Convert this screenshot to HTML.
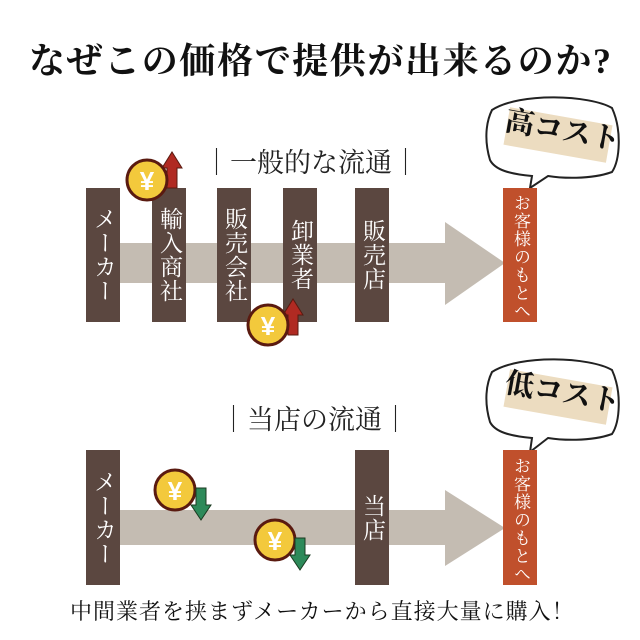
<!DOCTYPE html>
<html><head><meta charset="utf-8"><style>
body{margin:0;width:640px;height:640px;background:#fff;position:relative;overflow:hidden;font-family:"Liberation Serif","Noto Serif CJK SC",serif}
.a{position:absolute}
.bar{position:absolute;background:#5b4740;color:#fff;writing-mode:vertical-rl;font-size:23px;display:flex;justify-content:center;align-items:center;width:34px;line-height:34px;letter-spacing:1px}
.cu{background:#c0502c;font-size:17px;align-items:flex-start;padding-top:4px;box-sizing:border-box}
.t{position:absolute;white-space:nowrap;color:#222}
</style></head><body>
<div class="t" style="left:29px;top:33px;font-size:36px;font-weight:bold;color:#111;letter-spacing:1.6px">なぜこの価格で提供が出来るのか?</div>
<svg class="a" style="left:0;top:0" width="640" height="640">
<polygon points="120,243 445,243 445,222 505,263 445,305 445,283 120,283" fill="#c4bcb2"/>
<polygon points="120,510 445,510 445,490 505,528 445,566 445,545 120,545" fill="#c4bcb2"/>
<path d="M492,110 C520,92 590,95 612,108 C622,130 620,160 612,172 C590,180 560,178 548,176 L530,188 L532,176 C510,174 495,170 490,160 C484,140 486,122 492,110Z" fill="#fff" stroke="#222" stroke-width="2"/>
<path d="M492,372 C520,354 590,357 612,370 C622,392 620,422 612,434 C590,442 560,440 548,438 L530,452 L532,438 C510,436 495,432 490,422 C484,402 486,384 492,372Z" fill="#fff" stroke="#222" stroke-width="2"/>
<g transform="rotate(10 558 135)"><rect x="506" y="116" width="104" height="38" fill="#ecdcc0"/></g>
<g transform="rotate(10 558 397)"><rect x="506" y="378" width="104" height="38" fill="#ecdcc0"/></g>
<circle cx="175" cy="490" r="20" fill="#f3c93c" stroke="#5a1a10" stroke-width="3"/>
<polygon points="196,488 196,505 191,505 201,520 211,505 206,505 206,488" fill="#2d8a5a" stroke="#1a3a20" stroke-width="1"/>
<circle cx="275" cy="540" r="20" fill="#f3c93c" stroke="#5a1a10" stroke-width="3"/>
<polygon points="295,538 295,555 290,555 300,570 310,555 305,555 305,538" fill="#2d8a5a" stroke="#1a3a20" stroke-width="1"/>
<g fill="#fff" font-size="26" font-weight="bold" font-family="Liberation Sans,sans-serif" text-anchor="middle">
<text x="175" y="500">¥</text><text x="275" y="550">¥</text></g>
</svg>
<div class="t" style="left:203px;top:141px;font-size:27px">｜一般的な流通｜</div>
<div class="t" style="left:220px;top:398px;font-size:27px">｜当店の流通｜</div>
<div class="t" style="left:505px;top:108px;font-size:29px;font-weight:bold;transform:rotate(10deg);color:#111">高コスト</div>
<div class="t" style="left:505px;top:370px;font-size:29px;font-weight:bold;transform:rotate(10deg);color:#111">低コスト</div>
<div class="bar" style="left:86px;top:188px;height:134px">メーカー</div>
<div class="bar" style="left:152px;top:188px;height:134px">輸入商社</div>
<div class="bar" style="left:217px;top:188px;height:134px">販売会社</div>
<div class="bar" style="left:283px;top:188px;height:134px">卸業者</div>
<div class="bar" style="left:355px;top:188px;height:134px">販売店</div>
<div class="bar cu" style="left:503px;top:188px;height:134px">お客様のもとへ</div>
<div class="bar" style="left:86px;top:450px;height:135px">メーカー</div>
<div class="bar" style="left:355px;top:450px;height:135px">当店</div>
<div class="bar cu" style="left:503px;top:450px;height:135px">お客様のもとへ</div>
<svg class="a" style="left:0;top:0" width="640" height="640">
<polygon points="167,188 167,168 162,168 172,152 182,168 177,168 177,188" fill="#b02a22" stroke="#5a1a10" stroke-width="1"/>
<circle cx="147" cy="180" r="20" fill="#f3c93c" stroke="#5a1a10" stroke-width="3"/>
<polygon points="288,335 288,315 283,315 293,299 303,315 298,315 298,335" fill="#b02a22" stroke="#5a1a10" stroke-width="1"/>
<circle cx="268" cy="325" r="20" fill="#f3c93c" stroke="#5a1a10" stroke-width="3"/>
<g fill="#fff" font-size="26" font-weight="bold" font-family="Liberation Sans,sans-serif" text-anchor="middle">
<text x="147" y="190">¥</text><text x="268" y="335">¥</text></g>
</svg>
<div class="t" style="left:70px;top:595px;font-size:22px;color:#111;letter-spacing:1px">中間業者を挟まずメーカーから直接大量に購入！</div>
</body></html>
